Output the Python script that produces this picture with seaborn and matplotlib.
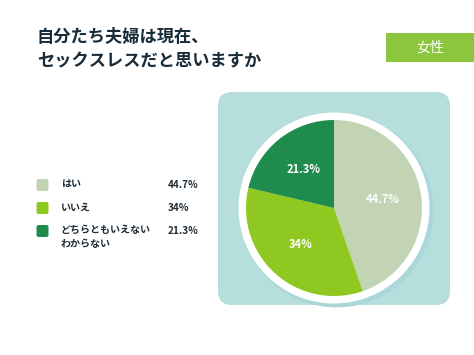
import matplotlib.pyplot as plt
import seaborn as sns
import numpy as np
from matplotlib.patches import FancyBboxPatch, Circle

# data
title = "自分たち夫婦は現在、\nセックスレスだと思いますか"
tag = "女性"
labels = ["はい", "いいえ", "どちらともいえない\nわからない"]
values = [44.7, 34, 21.3]
pct_text = ["44.7%", "34%", "21.3%"]
colors = ["#c2d4b3", "#8fc820", "#1f8c4e"]

sns.set_theme(style="white")
plt.rcParams['font.family'] = ['Noto Sans CJK JP', 'DejaVu Sans']

W, H = 474, 355
fig = plt.figure(figsize=(W / 100, H / 100), dpi=100)
fig.patch.set_facecolor("white")

# background axes in pixel coords
bg = fig.add_axes([0, 0, 1, 1])
bg.set_xlim(0, W)
bg.set_ylim(H, 0)
bg.axis("off")

bg.text(37, 49, title, fontsize=12.4, fontweight="bold", color="#172b38",
        va="center", ha="left", linespacing=1.5)

# tag box
bg.add_patch(FancyBboxPatch((386, 33), 95, 29, boxstyle="square,pad=0",
                            facecolor="#8cc63f", edgecolor="none"))
bg.text(430, 48, tag, fontsize=10, color="white", ha="center", va="center")

# panel
bg.add_patch(FancyBboxPatch((230, 104), 208, 189, boxstyle="round,pad=12,rounding_size=14",
                            facecolor="#b6dedc", edgecolor="none"))

# legend
rows_y = [185, 208, 231]
for lab, pct, col, y in zip(labels, pct_text, colors, rows_y):
    bg.add_patch(FancyBboxPatch((37, y - 5.5), 11, 11, boxstyle="round,pad=0.5,rounding_size=2",
                                facecolor=col, edgecolor="none"))
    if "\n" in lab:
        bg.text(61, y - 6, lab, fontsize=7.2, fontweight="bold", color="#1c2b36",
                ha="left", va="top", linespacing=1.45)
    else:
        bg.text(61, y, lab, fontsize=7.2, fontweight="bold", color="#1c2b36",
                ha="left", va="center")
    bg.text(168, y, pct, fontsize=7.2, fontweight="bold", color="#1c2b36",
            ha="left", va="center")

# pie axes
cx, cy, r = 334, 208, 85
s = 220
ax = fig.add_axes([(cx - s / 2) / W, (H - cy - s / 2) / H, s / W, s / H])
lim = (s / 2) / r
ax.set_xlim(-lim, lim)
ax.set_ylim(-lim, lim)
ax.set_aspect("equal")
ax.axis("off")
ax.add_patch(Circle((0.03, -0.03), 1.1, facecolor="#a9d7da", edgecolor="none", zorder=0))
ax.add_patch(Circle((0, 0), 1.085, facecolor="white", edgecolor="none", zorder=1))
wedges, _ = ax.pie(values, colors=colors, startangle=90, counterclock=False,
                   radius=1, wedgeprops=dict(edgecolor="none"))
for w in wedges:
    w.set_zorder(2)

ang = 90
for v, t in zip(values, pct_text):
    mid = np.deg2rad(ang - v * 3.6 / 2)
    ang -= v * 3.6
    ax.text(0.56 * np.cos(mid), 0.56 * np.sin(mid), t, color="white", fontsize=8,
            fontweight="bold", ha="center", va="center", zorder=3)

fig.savefig("out.png", dpi=100)
